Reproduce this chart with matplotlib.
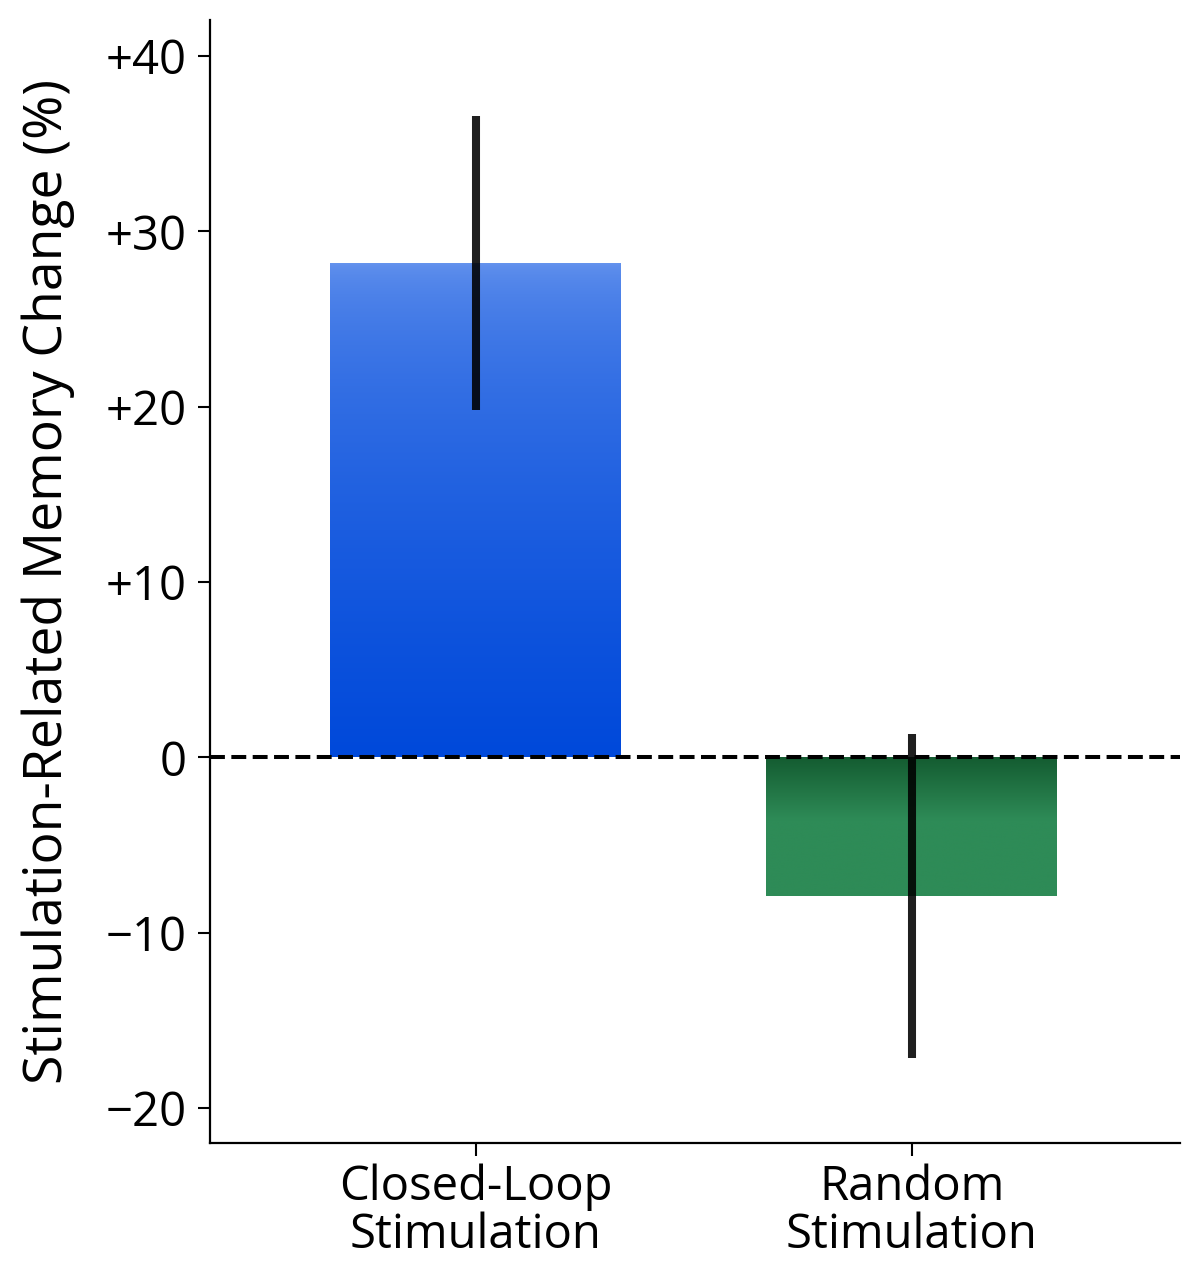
import numpy as np
import matplotlib
matplotlib.use("Agg")
import matplotlib.pyplot as plt
from matplotlib.colors import LinearSegmentedColormap

categories = ["Closed-Loop\nStimulation", "Random\nStimulation"]
values = [28.2, -7.9]
errors = [8.4, 9.25]
top_colors = ["#6795ee", "#145c31"]
bottom_colors = ["#0049da", "#2e8b57"]

plt.rcParams['font.family'] = ['Open Sans', 'DejaVu Sans']

fig = plt.figure(figsize=(12, 12.81), dpi=100)
ax = fig.add_axes([0.175, 0.1077, 0.808, 0.8765])

x = np.arange(len(categories))
bars = ax.bar(x, values, width=0.667, color="none", edgecolor="none", zorder=2)

grads = [
    lambda t: t ** 0.5,
    lambda t: np.clip(t / 0.45, 0, 1),
]
for i, b in enumerate(bars):
    x0, w = b.get_x(), b.get_width()
    y0, h = b.get_y(), b.get_height()
    ylo, yhi = min(y0, y0 + h), max(y0, y0 + h)
    cmap = LinearSegmentedColormap.from_list(f"g{i}", [top_colors[i], bottom_colors[i]])
    t = np.linspace(0, 1, 256)[:, None]
    img = grads[i](t)
    im = ax.imshow(img, cmap=cmap, vmin=0, vmax=1, aspect="auto",
                   extent=[x0, x0 + w, ylo, yhi],
                   origin="upper", zorder=2, interpolation="bicubic")
    im.set_clip_path(b)

ax.errorbar(x, values, yerr=errors, fmt="none", ecolor="black", alpha=0.88,
            elinewidth=5.8, capsize=0, zorder=4)
ax.axhline(0, color="black", linestyle="--", linewidth=2.9, zorder=3)

ax.set_xlim(-0.61, 1.615)
ax.set_ylim(-22, 42.05)
ax.set_yticks([-20, -10, 0, 10, 20, 30, 40])
ax.set_yticklabels(["\u221220", "\u221210", "0", "+10", "+20", "+30", "+40"])
ax.set_xticks(x)
ax.set_xticklabels(categories, linespacing=1.0)
ax.tick_params(axis="both", labelsize=34, length=9, width=1.5, direction="out")
ax.tick_params(axis="y", pad=8)
ax.tick_params(axis="x", pad=6)
ax.set_ylabel("Stimulation-Related Memory Change (%)", fontsize=38.5, labelpad=22)

for s in ["top", "right"]:
    ax.spines[s].set_visible(False)
for s in ["left", "bottom"]:
    ax.spines[s].set_linewidth(1.6)

fig.savefig("out.png", dpi=100)
